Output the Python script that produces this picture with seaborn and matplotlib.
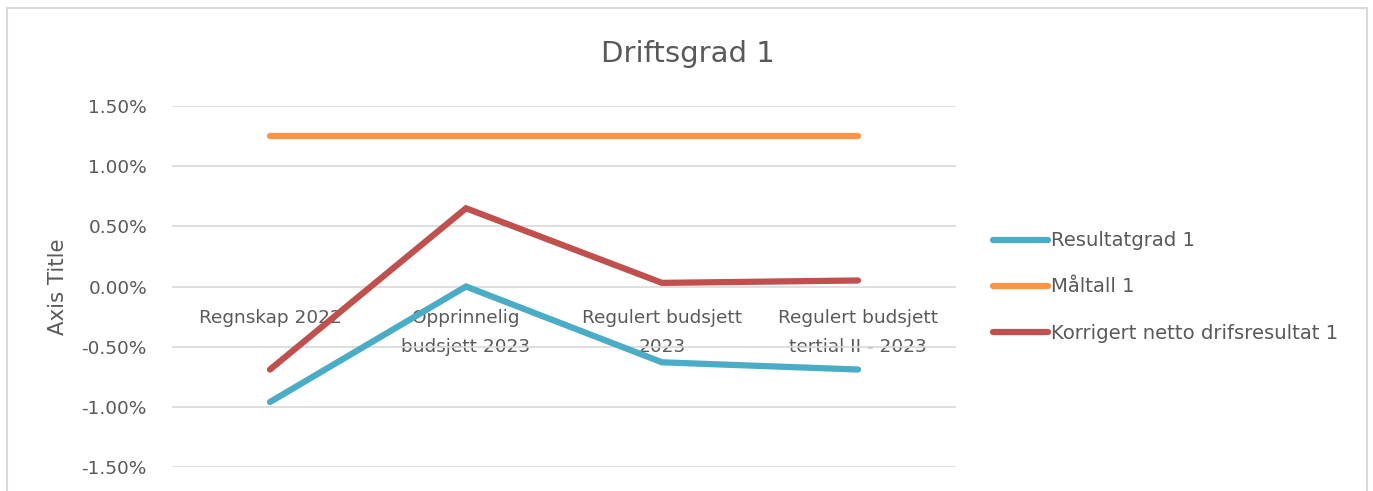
import pandas as pd
import matplotlib.pyplot as plt
import seaborn as sns
from matplotlib.patches import Rectangle
from matplotlib.ticker import PercentFormatter

# Kategorier og verdier (i prosent)
kategorier = ["Regnskap 2022", "Opprinnelig\nbudsjett 2023",
              "Regulert budsjett\n2023", "Regulert budsjett\ntertial II - 2023"]
resultatgrad = [-0.96, 0.00, -0.63, -0.69]
maltall = [1.25, 1.25, 1.25, 1.25]
korrigert = [-0.69, 0.65, 0.03, 0.05]
serier = ["Resultatgrad 1", "Måltall 1", "Korrigert netto drifsresultat 1"]
farger = ["#4BACC6", "#F79646", "#C0504D"]

df = pd.DataFrame({
    "kategori": kategorier * 3,
    "verdi": resultatgrad + maltall + korrigert,
    "serie": [serier[0]] * 4 + [serier[1]] * 4 + [serier[2]] * 4,
})

sns.set_style("white")
plt.rcParams["font.family"] = ["DejaVu Sans"]
plt.rcParams["axes.unicode_minus"] = False
tekst = "#595959"

fig = plt.figure(figsize=(13.73, 4.91), dpi=100)
ax = fig.add_axes([172 / 1373, 1 - 467 / 491, (956 - 172) / 1373, (467 - 106) / 491])

sns.lineplot(data=df, x="kategori", y="verdi", hue="serie", palette=dict(zip(serier, farger)),
             linewidth=4.5, solid_capstyle="round", solid_joinstyle="miter", sort=False, ax=ax)

ax.set_xlim(-0.5, 3.5)
ax.set_ylim(-1.5, 1.5)
ax.set_yticks([-1.5, -1.0, -0.5, 0.0, 0.5, 1.0, 1.5])
ax.yaxis.set_major_formatter(PercentFormatter(decimals=2))
ax.grid(True, axis="y", color="#D9D9D9", linewidth=1.2)
ax.set_axisbelow(True)
for s in ["top", "right", "left"]:
    ax.spines[s].set_visible(False)
ax.spines["bottom"].set_position(("data", 0))
ax.spines["bottom"].set_visible(False)
ax.tick_params(axis="both", length=0, labelsize=13.3, labelcolor=tekst)
ax.tick_params(axis="x", pad=16)
ax.tick_params(axis="y", pad=18)
for lbl in ax.get_xticklabels():
    lbl.set_linespacing(1.8)

ax.set_xlabel("")
ax.set_ylabel("Axis Title", fontsize=15.3, color=tekst, labelpad=10)
fig.suptitle("Driftsgrad 1", x=(600 + 775) / 2 / 1373, y=1 - 40 / 491, va="top",
             fontsize=21, color=tekst)

handles, labels = ax.get_legend_handles_labels()
ax.legend(handles, labels, loc="center left", bbox_to_anchor=(993 / 1373, 1 - 287 / 491),
          bbox_transform=fig.transFigure, frameon=False, fontsize=14.1, labelcolor=tekst,
          handlelength=2.8, handletextpad=0.15, labelspacing=1.38, borderpad=0, borderaxespad=0)

fig.patches.append(Rectangle((7 / 1373, -0.05), (1367 - 7) / 1373, 1.05 - 8 / 491,
                             transform=fig.transFigure, fill=False, edgecolor="#D9D9D9",
                             linewidth=1.5))

fig.savefig("out.png", dpi=100)
